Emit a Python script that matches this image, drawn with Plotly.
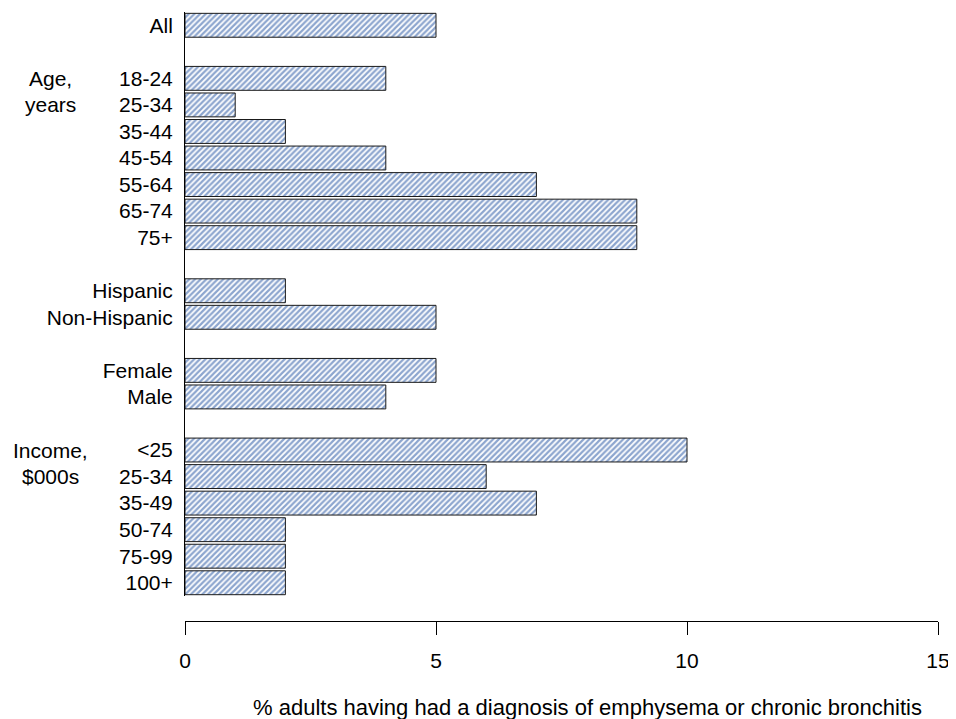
import plotly.graph_objects as go

# Data
categories = ["All",
              "18-24", "25-34", "35-44", "45-54", "55-64", "65-74", "75+",
              "Hispanic", "Non-Hispanic",
              "Female", "Male",
              "<25", "25-34", "35-49", "50-74", "75-99", "100+"]
values = [5, 4, 1, 2, 4, 7, 9, 9, 2, 5, 5, 4, 10, 6, 7, 2, 2, 2]
# row positions (blank rows separate groups)
rows = [0, 2, 3, 4, 5, 6, 7, 8, 10, 11, 13, 14, 16, 17, 18, 19, 20, 21]
group_labels = [("Age,", 2), ("years", 3), ("Income,", 16), ("$000s", 17)]
x_ticks = [0, 5, 10, 15]
x_title = "% adults having had a diagnosis of emphysema or chronic bronchitis"

FONT = "Liberation Sans, Arial, sans-serif"
FS = 21

# page body has an 8px margin; compensate so the plot lands where the reference has it
fig = go.Figure()
fig.add_trace(go.Bar(
    x=values, y=rows, orientation="h", width=0.9,
    marker=dict(color="white",
                line=dict(color="#1a1a1a", width=1),
                pattern=dict(shape="/", fgcolor="#1a4c9e", bgcolor="white",
                             size=4, solidity=0.55)),
    hovertext=categories, hoverinfo="x+text",
))

for text, r in group_labels:
    fig.add_annotation(x=0, xref="paper", y=r, yref="y", text=text,
                       showarrow=False, xanchor="center", xshift=-135,
                       font=dict(family=FONT, size=FS, color="black"))

fig.add_annotation(x=(587 - 185) / 753, xref="paper", y=0, yref="paper",
                   yshift=-86, text=x_title, showarrow=False,
                   xanchor="center", yanchor="middle",
                   font=dict(family=FONT, size=22, color="black"))

fig.update_layout(
    width=948, height=711,
    margin=dict(l=177, r=18, t=4, b=98),
    plot_bgcolor="white", paper_bgcolor="white",
    showlegend=False,
    font=dict(family=FONT, size=FS, color="black"),
    xaxis=dict(range=[0, 15], tickvals=x_ticks, ticks="outside", ticklen=13,
               tickwidth=1, tickcolor="black", showline=True, linecolor="black",
               linewidth=1, showgrid=False, zeroline=False,
               anchor="free", position=0, automargin=False,
               ticklabelstandoff=8,
               tickfont=dict(family=FONT, size=FS)),
    yaxis=dict(range=[21.5, -0.5], domain=[0.041, 1],
               tickvals=rows, ticktext=categories,
               ticks="", showline=True, linecolor="black", linewidth=1,
               showgrid=False, zeroline=False, ticklabelstandoff=7,
               automargin=False,
               tickfont=dict(family=FONT, size=FS)),
)

fig.write_html("out.html")
